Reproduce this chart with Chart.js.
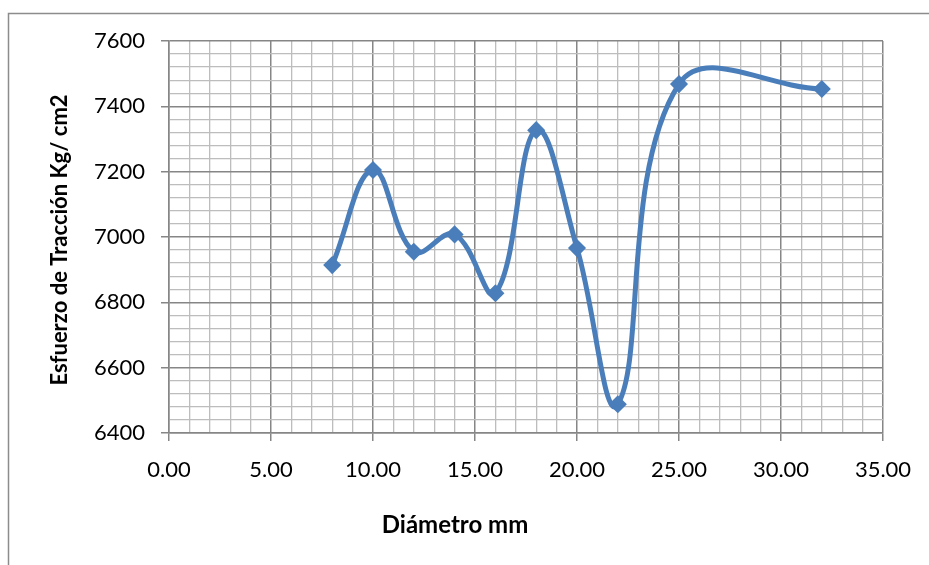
<!DOCTYPE html>
<html>
<head>
<meta charset="utf-8">
<script src="https://cdn.jsdelivr.net/npm/chart.js@4"></script>
<style>
  html, body { margin: 0; padding: 0; background: #fff; }
  #wrap { width: 929px; height: 565px; }
</style>
</head>
<body>
<div id="wrap"><canvas id="chart" width="929" height="565"></canvas></div>
<script>
// Data.
const diametro = [8, 10, 12, 14, 16, 18, 20, 22, 25, 32];
const esfuerzo = [6914, 7205, 6955, 7008, 6828, 7327, 6966, 6488, 7468, 7453];
const xTitle = 'Diámetro mm';
const yTitle = 'Esfuerzo de Tracción Kg/ cm2';

const blue = '#4a7ebb';
const major = '#868686';
const minor = '#bdbdbd';
const font = 'Lato';

// Outer frame and axis titles.
const decor = {
  id: 'decor',
  beforeDraw: (chart) => {
    const {ctx} = chart;
    ctx.save();
    ctx.fillStyle = '#fff';
    ctx.fillRect(0, 0, chart.width, chart.height);
    ctx.strokeStyle = '#8c8c8c';
    ctx.lineWidth = 1.5;
    ctx.beginPath();
    ctx.moveTo(8.5, chart.height);
    ctx.lineTo(8.5, 13.5);
    ctx.lineTo(chart.width, 13.5);
    ctx.stroke();
    ctx.restore();
  },
  afterDraw: (chart) => {
    const {ctx} = chart;
    ctx.save();
    ctx.fillStyle = '#000';
    ctx.textAlign = 'center';
    ctx.textBaseline = 'middle';
    ctx.font = 'bold 24px ' + font;
    ctx.fillText(xTitle, 455, 525);
    ctx.font = 'bold 22px ' + font;
    ctx.translate(60, 240);
    ctx.rotate(-Math.PI / 2);
    ctx.fillText(yTitle, 0, 0);
    ctx.restore();
  }
};

const ctx = document.getElementById('chart').getContext('2d');
new Chart(ctx, {
  type: 'line',
  data: {
    datasets: [{
      data: diametro.map((x, i) => ({x, y: esfuerzo[i]})),
      borderColor: blue,
      backgroundColor: blue,
      borderWidth: 5,
      tension: 0.4,
      pointStyle: 'rectRot',
      pointRadius: 8,
      pointBorderWidth: 1.5,
      pointBorderColor: blue,
      pointBackgroundColor: blue,
    }],
  },
  options: {
    responsive: false,
    animation: false,
    layout: {padding: {top: 41, right: 46, left: 0, bottom: 0}},
    plugins: {
      legend: {display: false},
      tooltip: {enabled: false},
    },
    scales: {
      x: {
        type: 'linear',
        min: 0,
        max: 35,
        afterFit: (s) => { s.height = 132; },
        ticks: {
          stepSize: 1,
          autoSkip: false,
          maxRotation: 0,
          padding: 16,
          color: '#000',
          font: {family: font, size: 22},
          callback: (v) => (v % 5 === 0 ? v.toFixed(2) : ''),
        },
        grid: {
          color: (c) => (c.tick && c.tick.value % 5 === 0 ? major : minor),
          tickColor: (c) => (c.tick && c.tick.value % 5 === 0 ? major : 'rgba(0,0,0,0)'),
          lineWidth: (c) => (c.tick && c.tick.value % 5 === 0 ? 1.5 : 1.3),
          tickLength: 8,
        },
        border: {color: major, width: 1.5},
      },
      y: {
        min: 6400,
        max: 7600,
        afterFit: (s) => { s.width = 169; },
        ticks: {
          stepSize: 40,
          autoSkip: false,
          padding: 16,
          color: '#000',
          font: {family: font, size: 22},
          callback: (v) => (v % 200 === 0 ? String(v) : ''),
        },
        grid: {
          color: (c) => (c.tick && c.tick.value % 200 === 0 ? major : minor),
          tickColor: (c) => (c.tick && c.tick.value % 200 === 0 ? major : 'rgba(0,0,0,0)'),
          lineWidth: (c) => (c.tick && c.tick.value % 200 === 0 ? 1.5 : 1.3),
          tickLength: 8,
        },
        border: {color: major, width: 1.5},
      },
    },
  },
  plugins: [decor],
});
</script>
</body>
</html>
